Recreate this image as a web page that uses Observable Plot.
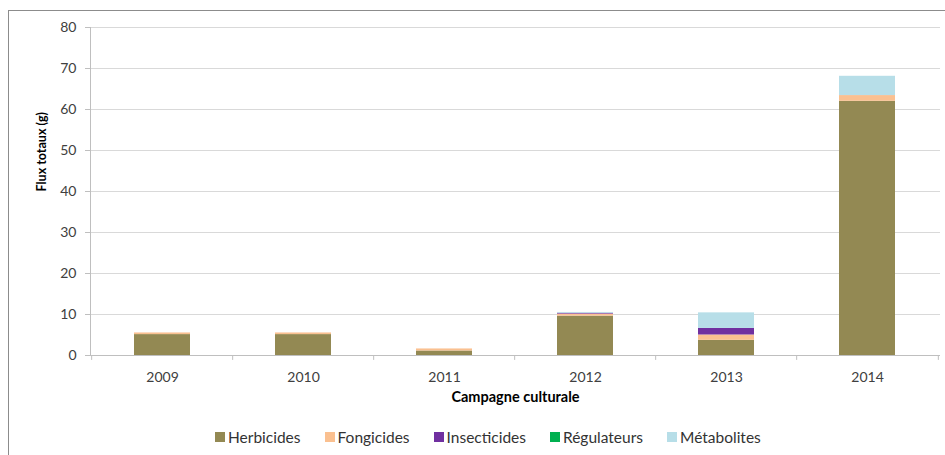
<!DOCTYPE html>
<html><head><meta charset="utf-8">
<script src="https://cdn.jsdelivr.net/npm/d3@7"></script>
<script src="https://cdn.jsdelivr.net/npm/@observablehq/plot@0.6"></script>
<style>
body{margin:0;background:#fff;font-family:Lato,"Open Sans",sans-serif;}
#frame{position:absolute;left:8px;top:10px;width:945px;height:460px;border-left:1px solid #8c8c8c;border-top:1px solid #8c8c8c;box-sizing:border-box;z-index:2;pointer-events:none;}
#chart{position:absolute;left:0;top:0;z-index:1;}
#legend{position:absolute;left:215px;top:428px;display:flex;font-size:15.5px;color:#333;z-index:1;}
#legend .it{display:flex;align-items:center;margin-right:24px;}
#legend .sw{width:10px;height:10px;margin-right:3px;}
</style></head>
<body>
<div id="frame"></div>
<div id="chart"></div>
<div id="legend"></div>
<script>
const years = ["2009","2010","2011","2012","2013","2014"];
const types = ["Herbicides","Fongicides","Insecticides","Régulateurs","Métabolites"];
const colors = ["#938953","#fac090","#7030a0","#00b050","#b7dee8"];
const herbicides  = [5.1, 5.1, 1.1, 9.6, 3.7, 62.0];
const fongicides  = [0.4, 0.4, 0.5, 0.5, 1.3, 1.4];
const insecticides= [0,   0,   0,   0.2, 1.6, 0];
const regulateurs = [0,   0,   0,   0,   0,   0];
const metabolites = [0,   0,   0,   0.2, 3.8, 4.7];
const yTicks = [0,10,20,30,40,50,60,70,80];

const series = [herbicides, fongicides, insecticides, regulateurs, metabolites];
const data = [];
years.forEach((y,i)=>types.forEach((t,j)=>data.push({year:y,type:t,value:series[j][i]})));

const W=945, H=410, ML=90, MR=5, MT=27, MB=55;
const bw = (W-ML-MR)/years.length;

const plot = Plot.plot({
  width: W, height: H,
  marginLeft: ML, marginRight: MR, marginTop: MT, marginBottom: MB,
  style: {fontFamily: "Lato, 'Open Sans', sans-serif", fontSize: "14px", color: "#404040", background: "white"},
  x: {domain: years, paddingInner: 0.6, paddingOuter: 0.3, label: null},
  y: {domain: [0,80], label: null},
  color: {domain: types, range: colors},
  marks: [
    Plot.gridY(yTicks, {stroke: "#d9d9d9", strokeOpacity: 1}),
    Plot.barY(data, {x: "year", y: "value", fill: "type", order: types}),
    Plot.ruleY([0], {stroke: "#bfbfbf"}),
    Plot.frame({anchor: "left", stroke: "#bfbfbf"}),
    Plot.axisY(yTicks, {tickSize: 5, stroke: "#bfbfbf", tickPadding: 9, fill: "#404040", fontSize: 14}),
    Plot.ruleX(years, {x: d => d, dx: -bw/2, y1: 0, y2: -1.2, stroke: "#bfbfbf"}),
    Plot.ruleX([years[years.length-1]], {x: d => d, dx: bw/2, y1: 0, y2: -1.2, stroke: "#bfbfbf"}),
    Plot.axisX({tickSize: 0, tickPadding: 17, fill: "#404040", fontSize: 14}),
    Plot.text(["Campagne culturale"], {frameAnchor: "bottom", dy: 46, fontWeight: "bold", fontSize: 14.5, fill: "#000"}),
    Plot.text(["Flux totaux (g)"], {frameAnchor: "left", dx: -49, rotate: -90, fontWeight: "bold", fontSize: 12.5, fill: "#000"})
  ]
});
document.getElementById("chart").appendChild(plot);

const lg = document.getElementById("legend");
types.forEach((t,j)=>{
  const it=document.createElement("div"); it.className="it";
  const sw=document.createElement("div"); sw.className="sw"; sw.style.background=colors[j];
  const tx=document.createElement("span"); tx.textContent=t;
  it.appendChild(sw); it.appendChild(tx); lg.appendChild(it);
});
</script>
</body></html>
